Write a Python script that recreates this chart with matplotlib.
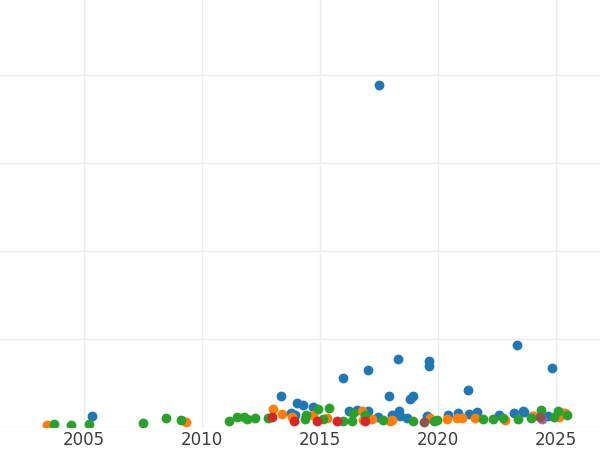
import matplotlib
matplotlib.use("Agg")
import matplotlib.pyplot as plt

# one list of (year, value) per colour group
blue_year = [2005.33, 2013.33, 2013.77, 2014.01, 2014.29, 2014.69, 2013.94, 2015.99, 2016.24,
             2016.56, 2017.05, 2017.05, 2017.50, 2017.46, 2017.92, 2018.05, 2018.31, 2018.34,
             2018.39, 2018.67, 2018.81, 2018.93, 2019.63, 2019.63, 2019.52, 2020.44, 2020.85,
             2021.26, 2021.30, 2021.64, 2022.56, 2023.23, 2023.35, 2023.64, 2024.04, 2024.67,
             2024.84, 2025.31, 2023.61]
blue_val = [12.5, 35.2, 15.6, 26.9, 25.0, 23.1, 13.6, 55.3, 18.5,
            19.3, 64.4, 18.5, 388.6, 11.0, 35.2, 14.0, 77.6, 18.2,
            12.5, 10.6, 31.8, 34.9, 75.0, 69.3, 12.5, 13.3, 15.6,
            41.7, 14.8, 17.0, 13.6, 15.6, 92.8, 17.0, 12.5, 12.5,
            67.4, 16.3, 18.2]

orange_year = [2003.42, 2009.32, 2013.02, 2013.40, 2013.83, 2014.72, 2015.28, 2016.77, 2016.83,
               2017.19, 2017.97, 2018.04, 2019.66, 2020.37, 2020.79, 2021.00, 2021.57, 2022.84,
               2024.04, 2025.14, 2025.38]
orange_val = [2.3, 6.0, 20.1, 14.8, 10.8, 13.6, 9.9, 18.5, 8.0,
              8.8, 7.2, 8.0, 9.9, 9.1, 9.9, 10.6, 10.6, 7.4,
              12.8, 11.7, 15.6]

green_year = [2003.74, 2004.44, 2005.21, 2007.49, 2008.47, 2009.11, 2011.14, 2011.50, 2011.78,
              2011.89, 2012.25, 2012.81, 2014.41, 2014.36, 2014.90, 2015.14, 2015.38, 2015.99,
              2016.34, 2016.41, 2016.91, 2017.68, 2018.95, 2019.83, 2019.94, 2021.92, 2022.34,
              2022.74, 2023.40, 2023.93, 2024.35, 2024.89, 2025.10, 2025.45]
green_val = [3.1, 2.3, 3.8, 4.9, 9.9, 8.3, 6.8, 11.0, 11.7,
             9.1, 10.2, 9.9, 13.6, 8.8, 20.1, 8.8, 21.3, 7.2,
             7.2, 15.6, 13.6, 8.0, 6.8, 7.2, 8.0, 9.1, 9.1,
             10.6, 9.1, 9.9, 19.3, 11.7, 18.2, 13.6]

red_year = [2012.95, 2013.91, 2014.89, 2015.73, 2016.91]
red_val = [11.0, 7.2, 7.2, 7.2, 7.2]

purple_year = [2024.40]
purple_val = [9.1]

brown_year = [2019.41, 2024.32]
brown_val = [6.0, 11.7]

groups = [
    (blue_year, blue_val, "#1f77b4"),
    (orange_year, orange_val, "#ff7f0e"),
    (green_year, green_val, "#2ca02c"),
    (red_year, red_val, "#d62728"),
    (purple_year, purple_val, "#9467bd"),
    (brown_year, brown_val, "#8c564b"),
]

fig = plt.figure(figsize=(6, 4.5), dpi=100)
ax = fig.add_axes([0, 23 / 450, 1, 427 / 450])

for xs, ys, col in groups:
    ax.scatter(xs, ys, s=50, color=col, linewidths=0, zorder=3)

ax.set_xlim(2001.44, 2026.86)
ax.set_ylim(0, 485)
ax.set_xticks([2005, 2010, 2015, 2020, 2025])
ax.set_yticks([0, 100, 200, 300, 400])
ax.set_yticklabels([])
ax.grid(True, color="#ebebeb", linewidth=1)
ax.set_axisbelow(True)
for sp in ax.spines.values():
    sp.set_visible(False)
ax.tick_params(axis="both", length=0)
ax.tick_params(axis="x", labelsize=12, labelcolor="#3c3c3c", pad=3)

fig.savefig("out.png", dpi=100)
